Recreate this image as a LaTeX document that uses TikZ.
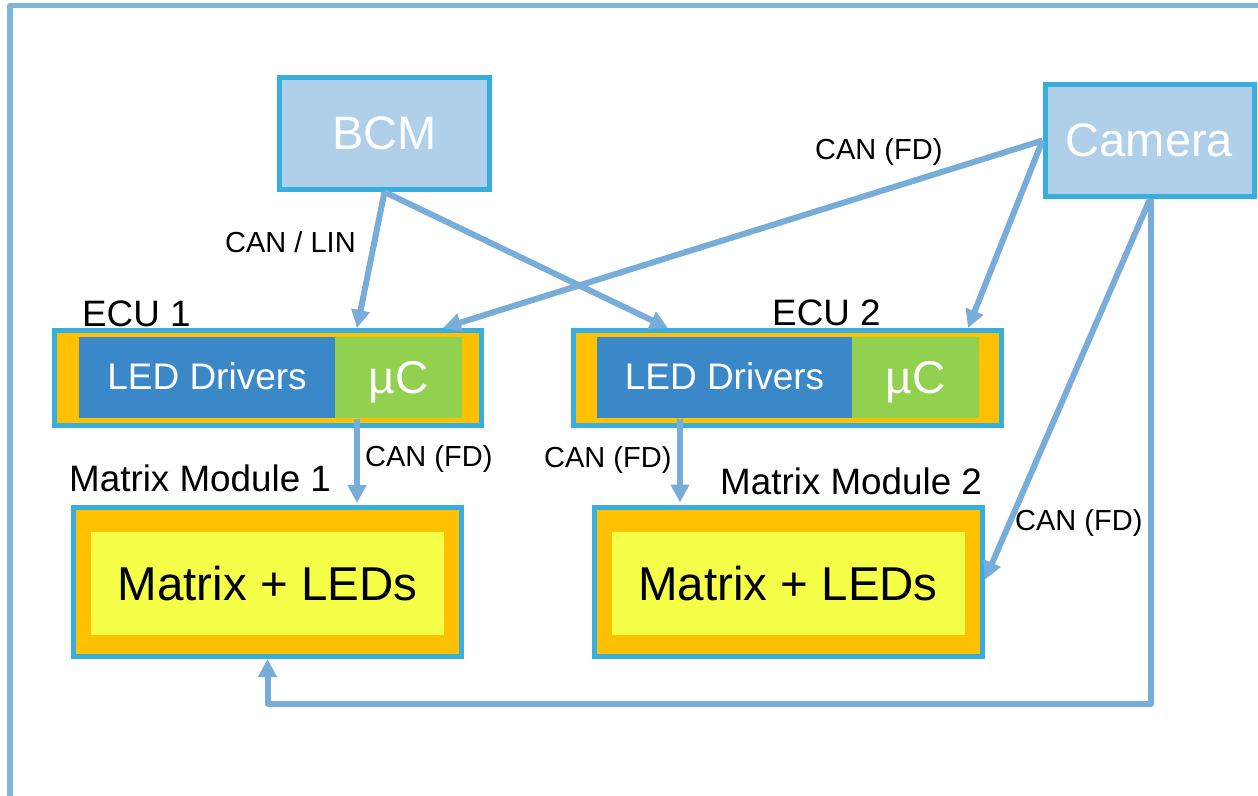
\documentclass[tikz,border=0pt]{standalone}
\usepackage{fontspec}
\setmainfont{Liberation Sans}
\usetikzlibrary{arrows.meta,calc}

\definecolor{frameblue}{HTML}{80B5DE}
\definecolor{connblue}{HTML}{78ADDA}
\definecolor{borderblue}{HTML}{38AEDF}
\definecolor{ctrlfill}{HTML}{B0D0E9}
\definecolor{ecuorange}{HTML}{FFC000}
\definecolor{drvblue}{HTML}{3A88C8}
\definecolor{ucgreen}{HTML}{92D050}
\definecolor{ledyellow}{HTML}{F5FF47}

\tikzset{
  ctrlbox/.style={draw=borderblue, line width=5pt, fill=ctrlfill, text=white,
    inner sep=0pt, font=\fontsize{47}{50}\selectfont},
  ecubox/.style={draw=borderblue, line width=5pt, fill=ecuorange, inner sep=0pt},
  drvblock/.style={fill=drvblue, text=white, inner sep=0pt,
    minimum height=81pt, font=\fontsize{37}{40}\selectfont},
  ucblock/.style={fill=ucgreen, inner sep=0pt,
    minimum width=127pt, minimum height=81pt},
  uctext/.style={text=white, inner sep=0pt, anchor=base, font=\fontsize{46}{50}\selectfont},
  modbox/.style={draw=borderblue, line width=5pt, fill=ecuorange, inner sep=0pt,
    minimum width=388pt, minimum height=149pt},
  ledblock/.style={fill=ledyellow, inner sep=0pt, minimum width=353pt,
    minimum height=103pt, font=\fontsize{47.5}{50}\selectfont},
  title/.style={inner sep=0pt, anchor=base west, font=\fontsize{36.8}{40}\selectfont},
  buslabel/.style={inner sep=0pt, anchor=base west, font=\fontsize{29}{32}\selectfont},
  conn/.style={draw=connblue, line width=6pt, line join=round,
    -{Triangle[length=18pt,width=18pt]}},
}

\begin{document}
\begin{tikzpicture}[x=1pt,y=-1pt]
\useasboundingbox (0,0) rectangle (1258,795);

% system frame
\draw[frameblue, line width=5.5pt, line join=round] (10,820) -- (10,5.5) -- (1290,5.5);

% control units
\node[ctrlbox, minimum width=210pt, minimum height=112pt] (bcm) at (384.5,133.5) {BCM};
\node[ctrlbox, minimum width=209pt, minimum height=112pt] (camera) at (1149.5,140.5) {Camera};

% ECUs
\node[ecubox, minimum width=427pt, minimum height=95pt] (ecu1) at (268,378) {};
\node[drvblock, minimum width=256pt] (drv1) at (207,377.5) {\raisebox{2pt}{LED Drivers}};
\node[ucblock] (uc1) at (398.5,377.5) {};
\node[uctext] (uct1) at (398.5,393) {µC};

\node[ecubox, minimum width=428pt, minimum height=95pt] (ecu2) at (787.5,378) {};
\node[drvblock, minimum width=255pt] (drv2) at (724.5,377.5) {\raisebox{2pt}{LED Drivers}};
\node[ucblock] (uc2) at (915.5,377.5) {};
\node[uctext] (uct2) at (915.5,393) {µC};

% matrix modules
\node[modbox] (mm1) at (267.5,582) {};
\node[ledblock] (led1) at (267.5,583.5) {Matrix + LEDs};
\node[modbox] (mm2) at (788.5,581.5) {};
\node[ledblock] (led2) at (788,583.5) {Matrix + LEDs};

% titles
\node[title] (t1) at (82,326) {ECU 1};
\node[title] (t2) at (772,325) {ECU 2};
\node[title] (t3) at (69,491) {Matrix Module 1};
\node[title] (t4) at (720,494) {Matrix Module 2};

% bus labels
\node[buslabel] (b1) at (225,252) {CAN / LIN};
\node[buslabel] (b2) at (815,159) {CAN (FD)};
\node[buslabel] (b3) at (365,466) {CAN (FD)};
\node[buslabel] (b4) at (544,467) {CAN (FD)};
\node[buslabel] (b5) at (1015,530) {CAN (FD)};

% connections
\draw[conn] (bcm.south) -- ([xshift=89pt]ecu1.north);
\draw[conn] (bcm.south) -- ([xshift=-119.5pt]ecu2.north);
\draw[conn] (camera.west) -- ([xshift=175pt]ecu1.north);
\draw[conn] (camera.west) -- ([xshift=180.5pt]ecu2.north);
\draw[conn] ([xshift=0.5pt]camera.south) -- ([yshift=2pt]mm2.east);
\draw[conn] ([xshift=1.5pt]camera.south) |- ([yshift=-45pt]mm1.south) -- (mm1.south);
\draw[conn] ([xshift=89pt,yshift=9pt]ecu1.south) -- ([xshift=89.5pt,yshift=2pt]mm1.north);
\draw[conn] ([xshift=-107.5pt,yshift=9pt]ecu2.south) -- ([xshift=-108.5pt,yshift=2pt]mm2.north);
\end{tikzpicture}
\end{document}
